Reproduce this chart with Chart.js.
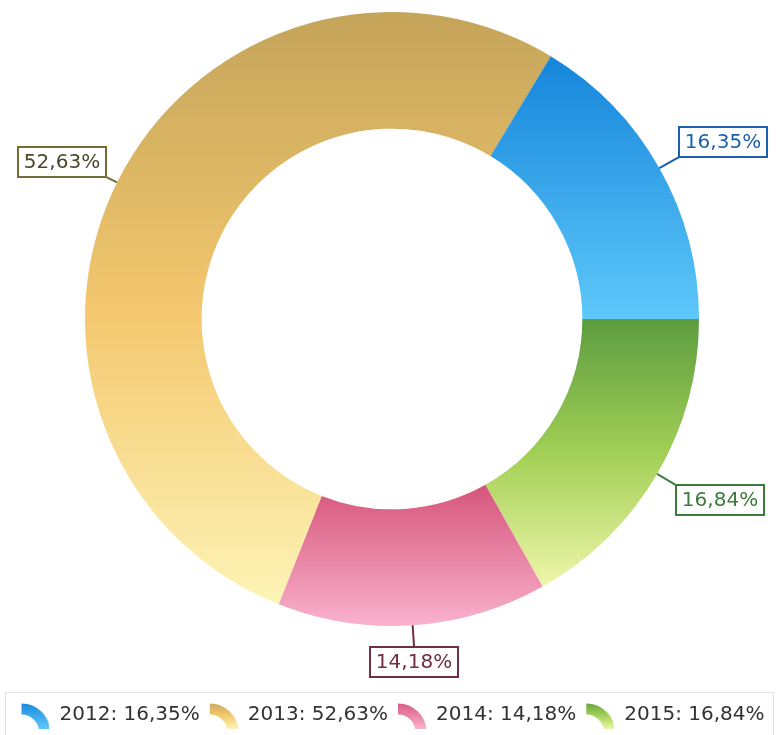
<!DOCTYPE html>
<html>
<head>
<meta charset="utf-8">
<script src="https://cdn.jsdelivr.net/npm/chart.js@4.4.1/dist/chart.umd.min.js"></script>
<style>
  html, body { margin: 0; padding: 0; background: #fff; }
</style>
</head>
<body>
<canvas id="donat" width="776" height="735"></canvas>
<script>
const years = ['2012', '2013', '2014', '2015'];
const shares = [16.35, 52.63, 14.18, 16.84];

// warna gradasi tiap irisan (atas -> bawah)
const gradStops = [
  ['#1585da', '#5ec8fa'],
  ['#c4a45a', '#f3c76e', '#fdf4b6'],
  ['#d6557c', '#f9b2cc'],
  ['#5c9c40', '#a2cf55', '#eff6aa']
];
const boxColors = ['#1a62ad', '#736c34', '#6e2f42', '#3b7b3b'];
const textColors = ['#1a62ad', '#4b4828', '#6e2f42', '#3b7b3b'];

function fmt(v) {
  return v.toFixed(2).replace('.', ',') + '%';
}

// chart.js gambar searah jarum jam, referensi berlawanan arah dari jam 3
const urutan = [3, 2, 1, 0];

function makeGradient(ctx, y0, y1, stops) {
  const g = ctx.createLinearGradient(0, y0, 0, y1);
  stops.forEach((c, i) => g.addColorStop(i / (stops.length - 1), c));
  return g;
}

function sliceExtent(arc) {
  let min = Infinity, max = -Infinity;
  for (let k = 0; k <= 60; k++) {
    const a = arc.startAngle + (arc.endAngle - arc.startAngle) * k / 60;
    [arc.innerRadius, arc.outerRadius].forEach(r => {
      const y = arc.y + Math.sin(a) * r;
      min = Math.min(min, y);
      max = Math.max(max, y);
    });
  }
  return [min, max];
}

// ikon legenda berbentuk potongan cincin
function makeIcon(stops) {
  const c = document.createElement('canvas');
  c.width = 30;
  c.height = 28;
  const g = c.getContext('2d');
  g.lineWidth = 11;
  g.strokeStyle = makeGradient(g, 0, 28, stops);
  g.beginPath();
  g.arc(2, 31, 23, -Math.PI / 2, 0);
  g.stroke();
  return c;
}
const icons = gradStops.map(makeIcon);

const gradientPlugin = {
  id: 'gradientPlugin',
  beforeDatasetsDraw(chart) {
    const ctx = chart.ctx;
    chart.getDatasetMeta(0).data.forEach((arc, i) => {
      const asli = urutan[i];
      const [y0, y1] = sliceExtent(arc);
      arc.options.backgroundColor = makeGradient(ctx, y0, y1, gradStops[asli]);
    });
  }
};

const labelPlugin = {
  id: 'labelPlugin',
  afterDatasetsDraw(chart) {
    const ctx = chart.ctx;
    ctx.save();
    ctx.font = '20px "DejaVu Sans"';
    ctx.textAlign = 'center';
    ctx.textBaseline = 'middle';
    chart.getDatasetMeta(0).data.forEach((arc, i) => {
      const asli = urutan[i];
      const mid = (arc.startAngle + arc.endAngle) / 2;
      const dx = Math.cos(mid), dy = Math.sin(mid);
      const ax = arc.x + dx * arc.outerRadius;
      const ay = arc.y + dy * arc.outerRadius;
      const len = dx < -0.35 ? 12 : 22;
      const ex = ax + dx * len;
      const ey = ay + dy * len;
      const text = fmt(shares[asli]);
      const w = Math.round(ctx.measureText(text).width) + 12;
      const h = 30;
      let bx, by;
      if (Math.abs(dx) < 0.35) {
        bx = ex - w / 2;
      } else {
        bx = dx > 0 ? ex : ex - w;
      }
      by = dy > 0 ? ey : ey - h;
      bx = Math.round(bx);
      by = Math.round(by);

      ctx.strokeStyle = boxColors[asli];
      ctx.lineWidth = 2;
      ctx.beginPath();
      ctx.moveTo(ax, ay);
      ctx.lineTo(ex, ey);
      ctx.stroke();

      ctx.fillStyle = '#ffffff';
      ctx.fillRect(bx, by, w, h);
      ctx.strokeRect(bx, by, w, h);
      ctx.fillStyle = textColors[asli];
      ctx.fillText(text, bx + w / 2, by + h / 2 + 1);
    });
    ctx.restore();
  },
  afterDraw(chart) {
    // garis kotak legenda
    const ctx = chart.ctx;
    ctx.save();
    ctx.strokeStyle = '#e2e2e2';
    ctx.lineWidth = 1;
    ctx.strokeRect(5.5, 692.5, 768, 50);
    ctx.restore();
  }
};

const ctx = document.getElementById('donat');

new Chart(ctx, {
  type: 'doughnut',
  data: {
    labels: urutan.map(i => years[i]),
    datasets: [{
      data: urutan.map(i => shares[i]),
      backgroundColor: (c) => gradStops[urutan[c.dataIndex]][0],
      borderWidth: 0,
      radius: 307
    }]
  },
  options: {
    responsive: false,
    animation: false,
    events: [],
    rotation: 90,
    cutout: '62%',
    layout: {
      padding: { left: 8, right: 0, top: 0, bottom: 0 }
    },
    plugins: {
      tooltip: { enabled: false },
      legend: {
        display: true,
        position: 'bottom',
        align: 'center',
        title: {
          display: true,
          text: ' ',
          font: { size: 10 },
          padding: { top: 0, bottom: 47 }
        },
        labels: {
          usePointStyle: true,
          pointStyleWidth: 30,
          boxHeight: 20,
          padding: 8,
          color: '#333333',
          font: { family: '"DejaVu Sans"', size: 20 },
          generateLabels: function () {
            return years.map((y, i) => ({
              text: y + ': ' + fmt(shares[i]),
              fillStyle: gradStops[i][0],
              strokeStyle: gradStops[i][0],
              fontColor: '#333333',
              lineWidth: 0,
              pointStyle: icons[i],
              hidden: false,
              index: i
            }));
          }
        }
      }
    }
  },
  plugins: [gradientPlugin, labelPlugin]
});
</script>
</body>
</html>
